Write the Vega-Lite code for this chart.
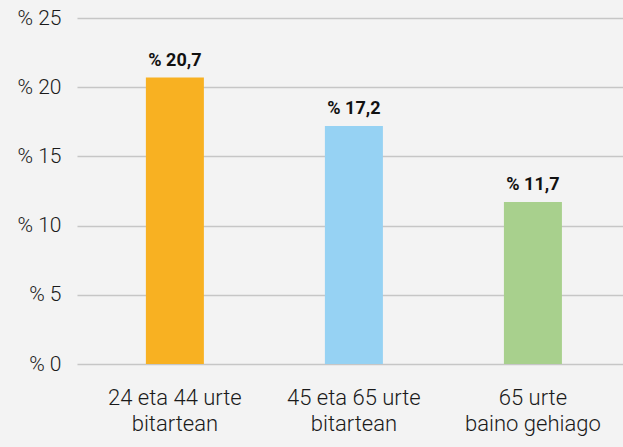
{
  "$schema": "https://vega.github.io/schema/vega-lite/v6.json",
  "width": 546,
  "height": 346,
  "autosize": {"type": "none"},
  "padding": {"left": 77, "top": 18, "right": 0, "bottom": 83},
  "background": "#f3f3f3",
  "config": {"view": {"stroke": null}, "font": "Roboto"},
  "data": {
    "values": [
      {"taldea": "24 eta 44 urte|bitartean", "balioa": 20.7, "etiketa": "% 20,7", "kolorea": "#F8B122"},
      {"taldea": "45 eta 65 urte|bitartean", "balioa": 17.2, "etiketa": "% 17,2", "kolorea": "#96D2F3"},
      {"taldea": "65 urte|baino gehiago", "balioa": 11.7, "etiketa": "% 11,7", "kolorea": "#A8D08D"}
    ]
  },
  "encoding": {
    "x": {
      "field": "taldea",
      "type": "nominal",
      "sort": null,
      "scale": {"paddingInner": 0.676, "paddingOuter": 0.363, "align": 0.53},
      "axis": {
        "title": null,
        "labelAngle": 0,
        "domain": false,
        "ticks": false,
        "labelExpr": "split(datum.value, '|')",
        "labelFontSize": 22,
        "labelColor": "#1a1a1a",
        "labelPadding": 23,
        "labelLineHeight": 26,
        "labelFontWeight": 300
      }
    },
    "y": {
      "field": "balioa",
      "type": "quantitative",
      "scale": {"domain": [0, 25]},
      "axis": {
        "title": null,
        "values": [0, 5, 10, 15, 20, 25],
        "domain": false,
        "ticks": false,
        "labelExpr": "'% ' + datum.value",
        "labelFontSize": 21,
        "labelColor": "#1a1a1a",
        "labelPadding": 16,
        "labelFontWeight": 300,
        "gridColor": "#c6c6c6",
        "gridWidth": 1.5
      }
    }
  },
  "layer": [
    {
      "mark": {"type": "bar"},
      "encoding": {
        "color": {"field": "kolorea", "type": "nominal", "scale": null}
      }
    },
    {
      "mark": {"type": "text", "dy": -17, "fontWeight": "bold", "fontSize": 18, "color": "#111111"},
      "encoding": {"text": {"field": "etiketa"}}
    }
  ]
}
